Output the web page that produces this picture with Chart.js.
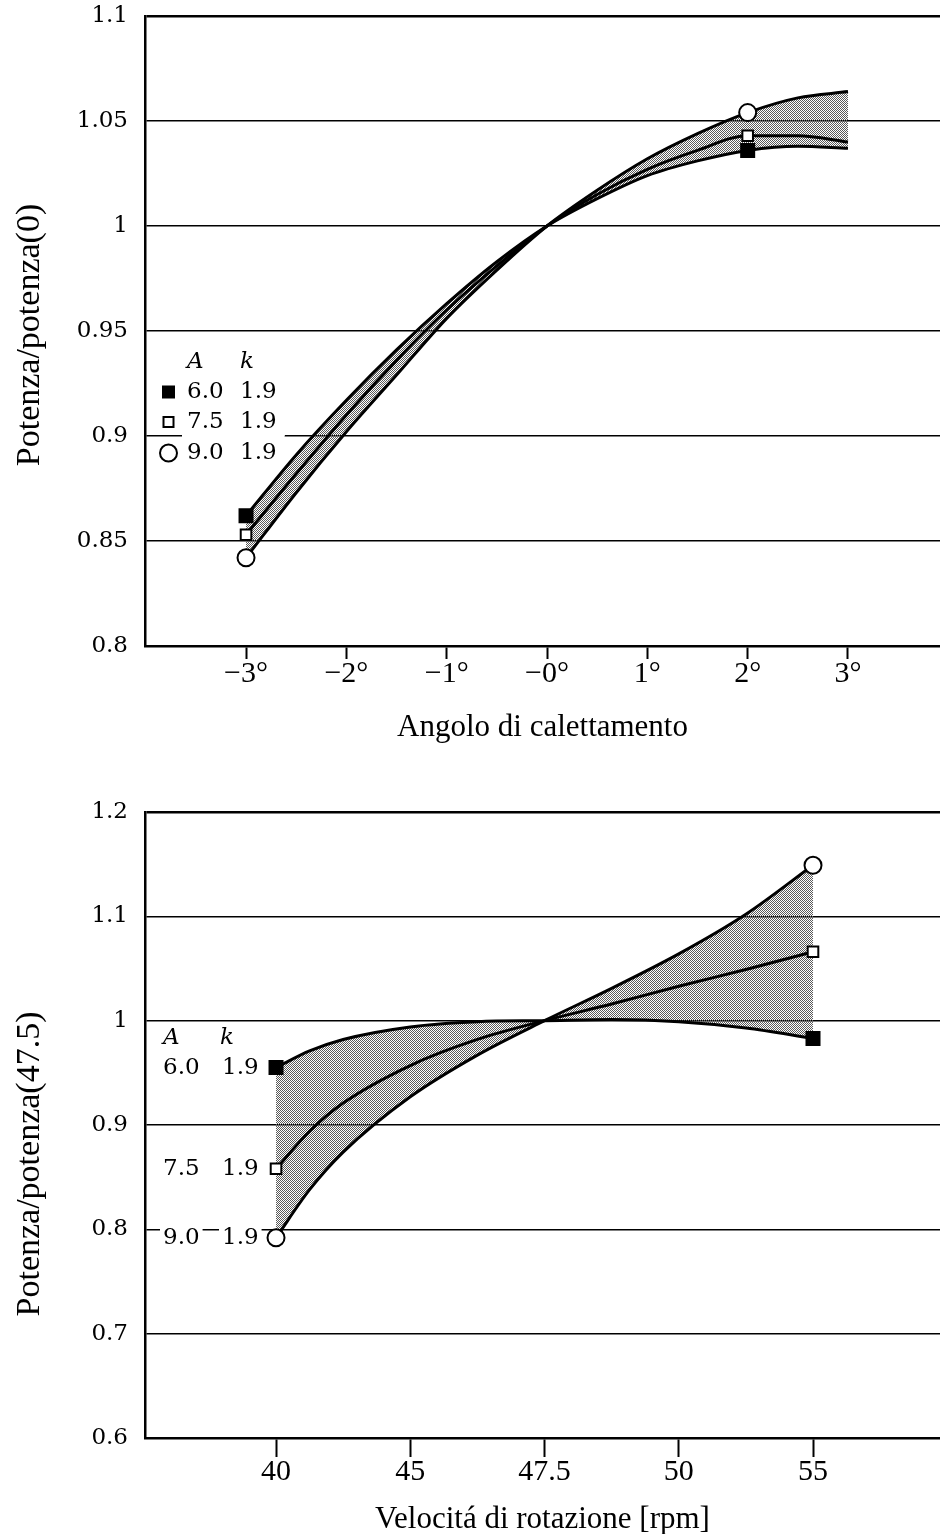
<!DOCTYPE html>
<html>
<head>
<meta charset="utf-8">
<script src="https://cdn.jsdelivr.net/npm/chart.js@4.4.0/dist/chart.umd.min.js"></script>
<style>
    body { margin: 0; background: #fff; }
    canvas { display: block; }
</style>
</head>
<body>
<canvas id="AngleCanvas" width="940" height="760"></canvas>
<canvas id="SpeedCanvas" width="940" height="774"></canvas>
<script>
// series description (A, k)
var seriesA = ['6.0', '7.5', '9.0'];
var seriesK = ['1.9', '1.9', '1.9'];

// --- top chart: angolo di calettamento ---
var angleTicks = [-3, -2, -1, 0, 1, 2, 3];
var angleTickLabels = ['\u22123\u00b0', '\u22122\u00b0', '\u22121\u00b0', '\u22120\u00b0', '1\u00b0', '2\u00b0', '3\u00b0'];
var angleYTicks = [0.8, 0.85, 0.9, 0.95, 1, 1.05, 1.1];

var angleSamples = [-3, -2.5, -2, -1.5, -1, -0.5, 0, 0.5, 1, 1.5, 2, 2.5, 3];
var angleCurve60 = [0.862, 0.891, 0.917, 0.941, 0.963, 0.983, 1.000, 1.013, 1.024, 1.031, 1.036, 1.038, 1.037];
var angleCurve75 = [0.853, 0.882, 0.910, 0.936, 0.960, 0.981, 1.000, 1.015, 1.027, 1.036, 1.043, 1.043, 1.040];
var angleCurve90 = [0.842, 0.873, 0.902, 0.929, 0.956, 0.979, 1.000, 1.017, 1.032, 1.044, 1.054, 1.061, 1.064];

var angleMarkerX = [-3, 2];
var angleMarker60 = [0.862, 1.036];
var angleMarker75 = [0.853, 1.043];
var angleMarker90 = [0.842, 1.054];

// --- bottom chart: velocita di rotazione (ticks are evenly spaced) ---
var speedTickLabels = ['40', '45', '47.5', '50', '55'];
var speedYTicks = [0.6, 0.7, 0.8, 0.9, 1, 1.1, 1.2];

// positions along the rpm axis, in tick steps (0 = 40, 2 = 47.5, 4 = 55)
var speedSamples = [0, 0.25, 0.5, 1, 1.5, 2, 2.5, 3, 3.5, 4];
var speedCurve60 = [0.955, 0.971, 0.982, 0.994, 0.999, 1.000, 1.001, 0.999, 0.993, 0.983];
var speedCurve75 = [0.858, 0.894, 0.921, 0.957, 0.982, 1.000, 1.016, 1.033, 1.049, 1.066];
var speedCurve90 = [0.792, 0.838, 0.874, 0.927, 0.967, 1.000, 1.031, 1.064, 1.102, 1.149];

var speedMarkerX = [0, 4];
var speedMarker60 = [0.955, 0.983];
var speedMarker75 = [0.858, 1.066];
var speedMarker90 = [0.792, 1.149];

Chart.defaults.animation = false;
Chart.defaults.color = '#000';

function pts(xs, ys) {
    return xs.map(function (x, i) { return { x: x, y: ys[i] }; });
}

function stipple(ctx) {
    var c = document.createElement('canvas');
    c.width = 2;
    c.height = 2;
    var g = c.getContext('2d');
    g.fillStyle = '#5a5a5a';
    g.fillRect(0, 0, 1, 1);
    g.fillRect(1, 1, 1, 1);
    return ctx.createPattern(c, 'repeat');
}

function curve(label, xs, ys, fillTo, pattern) {
    var ds = {
        label: label,
        data: pts(xs, ys),
        borderColor: '#000',
        borderWidth: 3,
        pointRadius: 0,
        cubicInterpolationMode: 'monotone',
        fill: false,
        order: 1
    };
    if (fillTo !== undefined) {
        ds.fill = { target: fillTo, above: pattern, below: pattern };
    }
    return ds;
}

function markers(label, xs, ys, style, filled, r) {
    return {
        label: label,
        data: pts(xs, ys),
        showLine: false,
        pointStyle: style,
        pointRadius: r,
        pointBorderWidth: 2,
        pointBorderColor: '#000',
        pointBackgroundColor: filled ? '#000' : '#fff',
        order: 0
    };
}

function scales(o) {
    return {
        x: {
            type: 'linear',
            min: o.xMin,
            max: o.xMax,
            afterBuildTicks: function (s) { s.ticks = o.xTicks.map(function (v) { return { value: v }; }); },
            afterFit: function (s) {
                s.height = o.xHeight;
                s.paddingLeft = 0;
                s.paddingRight = 0;
            },
            ticks: {
                autoSkip: false,
                maxRotation: 0,
                padding: o.xTickPad,
                font: { family: 'Liberation Serif', size: 30, lineHeight: 1 },
                callback: function (v, i) { return o.xLabels[i]; }
            },
            grid: { drawOnChartArea: false, tickLength: o.tickLen, tickWidth: 2, tickColor: '#000' },
            border: { color: '#000', width: 2.5 },
            title: {
                display: true,
                text: o.xTitle,
                font: { family: 'Liberation Serif', size: 31, lineHeight: 1 },
                padding: { top: 0, bottom: o.titlePad }
            }
        },
        y: {
            min: o.yMin,
            max: o.yMax,
            afterBuildTicks: function (s) { s.ticks = o.yTicks.map(function (v) { return { value: v }; }); },
            afterFit: function (s) {
                s.width = 145;
                s.paddingTop = 0;
                s.paddingBottom = 0;
            },
            ticks: {
                padding: 17,
                font: { family: 'DejaVu Serif', size: 23 },
                callback: function (v) { return String(v); }
            },
            grid: {
                drawTicks: false,
                color: '#000',
                lineWidth: function (c) { return c.tick && c.tick.value === o.yMax ? 2.5 : 1.4; }
            },
            border: { color: '#000', width: 2.5 }
        }
    };
}

function sideTitle(text, x, y) {
    return {
        id: 'sideTitle',
        afterDraw: function (chart) {
            var ctx = chart.ctx;
            ctx.save();
            ctx.translate(x, y);
            ctx.rotate(-Math.PI / 2);
            ctx.font = '34px "Liberation Serif"';
            ctx.fillStyle = '#000';
            ctx.textAlign = 'center';
            ctx.textBaseline = 'middle';
            ctx.fillText(text, 0, 0);
            ctx.restore();
        }
    };
}

function whiteBox(ctx, x0, x1, cy) {
    ctx.fillStyle = '#fff';
    ctx.fillRect(x0, cy - 19, x1 - x0, 33);
}

function symbol(ctx, i, x, y) {
    ctx.save();
    ctx.strokeStyle = '#000';
    ctx.fillStyle = '#000';
    ctx.lineWidth = 2;
    if (i === 0) {
        ctx.fillRect(x - 6.5, y - 6.5, 13, 13);
    } else if (i === 1) {
        ctx.strokeRect(x - 5, y - 5, 10, 10);
    } else {
        ctx.beginPath();
        ctx.arc(x, y, 8.5, 0, Math.PI * 2);
        ctx.stroke();
    }
    ctx.restore();
}

// legend of the top chart: block with symbols
var angleLegend = {
    id: 'angleLegend',
    beforeDatasetsDraw: function (chart) {
        var ctx = chart.ctx;
        var rows = [392, 422, 453];
        ctx.save();
        ctx.textBaseline = 'middle';
        ctx.font = 'italic 23px "DejaVu Serif"';
        ctx.fillStyle = '#000';
        ctx.fillText('A', 187, 362);
        ctx.fillText('k', 240, 362);
        ctx.font = '23px "DejaVu Serif"';
        rows.forEach(function (y, i) {
            var kEnd = 240 + ctx.measureText(seriesK[i]).width;
            whiteBox(ctx, 182, kEnd + 8, y);
            ctx.fillStyle = '#000';
            ctx.fillText(seriesA[i], 187, y);
            ctx.fillText(seriesK[i], 240, y);
            symbol(ctx, i, 168.5, y);
        });
        ctx.restore();
    }
};

// legend of the bottom chart: labels next to the first point of each curve
var speedLegend = {
    id: 'speedLegend',
    beforeDatasetsDraw: function (chart) {
        var ctx = chart.ctx;
        var y = chart.scales.y;
        var firsts = [speedCurve60[0], speedCurve75[0], speedCurve90[0]];
        ctx.save();
        ctx.textBaseline = 'middle';
        var top = y.getPixelForValue(firsts[0]);
        ctx.font = 'italic 23px "DejaVu Serif"';
        ctx.fillStyle = '#000';
        ctx.fillText('A', 163, top - 30);
        ctx.fillText('k', 220, top - 30);
        ctx.font = '23px "DejaVu Serif"';
        firsts.forEach(function (v, i) {
            var py = y.getPixelForValue(v);
            var wa = ctx.measureText(seriesA[i]).width;
            var wk = ctx.measureText(seriesK[i]).width;
            whiteBox(ctx, 160, 163 + wa + 3, py);
            whiteBox(ctx, 219, 222 + wk + 3, py);
            ctx.fillStyle = '#000';
            ctx.fillText(seriesA[i], 163, py);
            ctx.fillText(seriesK[i], 222, py);
        });
        ctx.restore();
    }
};

function InitAngleChart() {
    var canvas = document.getElementById('AngleCanvas');
    var pattern = stipple(canvas.getContext('2d'));
    new Chart(canvas, {
        type: 'line',
        data: {
            datasets: [
                curve('6.0', angleSamples, angleCurve60),
                curve('7.5', angleSamples, angleCurve75),
                curve('9.0', angleSamples, angleCurve90, 0, pattern),
                markers('6.0', angleMarkerX, angleMarker60, 'rect', true, 9.2),
                markers('7.5', angleMarkerX, angleMarker75, 'rect', false, 7.5),
                markers('9.0', angleMarkerX, angleMarker90, 'circle', false, 8.5)
            ]
        },
        options: {
            responsive: false,
            events: [],
            layout: { autoPadding: false, padding: { top: 16, left: 0, right: 0, bottom: 0 } },
            scales: scales({
                xMin: -4.007, xMax: 3.917, xTicks: angleTicks, xLabels: angleTickLabels,
                xHeight: 114, xTickPad: 0, tickLen: 13, xTitle: 'Angolo di calettamento', titlePad: 16.5,
                yMin: 0.8, yMax: 1.1, yTicks: angleYTicks
            }),
            plugins: {
                legend: { display: false },
                tooltip: { enabled: false },
                filler: { drawTime: 'beforeDatasetsDraw' }
            }
        },
        plugins: [angleLegend, sideTitle('Potenza/potenza(0)', 30, 335)]
    });
}

function InitSpeedChart() {
    var canvas = document.getElementById('SpeedCanvas');
    var pattern = stipple(canvas.getContext('2d'));
    new Chart(canvas, {
        type: 'line',
        data: {
            datasets: [
                curve('6.0', speedSamples, speedCurve60),
                curve('7.5', speedSamples, speedCurve75),
                curve('9.0', speedSamples, speedCurve90, 0, pattern),
                markers('6.0', speedMarkerX, speedMarker60, 'rect', true, 9.2),
                markers('7.5', speedMarkerX, speedMarker75, 'rect', false, 7.5),
                markers('9.0', speedMarkerX, speedMarker90, 'circle', false, 8.5)
            ]
        },
        options: {
            responsive: false,
            events: [],
            layout: { autoPadding: false, padding: { top: 52, left: 0, right: 0, bottom: 0 } },
            scales: scales({
                xMin: -0.976, xMax: 4.946, xTicks: [0, 1, 2, 3, 4], xLabels: speedTickLabels,
                xHeight: 96, xTickPad: 0, tickLen: 19, xTitle: 'Velocit\u00e1 di rotazione [rpm]', titlePad: -1.5,
                yMin: 0.6, yMax: 1.2, yTicks: speedYTicks
            }),
            plugins: {
                legend: { display: false },
                tooltip: { enabled: false },
                filler: { drawTime: 'beforeDatasetsDraw' }
            }
        },
        plugins: [speedLegend, sideTitle('Potenza/potenza(47.5)', 30, 404)]
    });
}

InitAngleChart();
InitSpeedChart();
</script>
</body>
</html>
